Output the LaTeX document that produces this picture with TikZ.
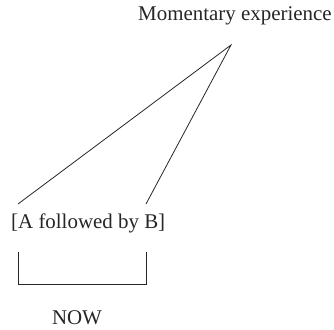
\documentclass[tikz,border=0pt]{standalone}
\usepackage{fontspec}
\setmainfont{Liberation Serif}
\begin{document}
\begin{tikzpicture}[x=1bp,y=-1bp,
  lbl/.style={inner sep=0pt,font=\fontsize{21}{25}\selectfont,text=black!85},
  ln/.style={line width=0.8bp,black!85}]
\useasboundingbox (0,0) rectangle (334,330);
\node[lbl,anchor=base west] (me) at (138,20) {Momentary experience};
\node[lbl,anchor=base west] (ab) at (11,228) {[A followed by B]};
\node[lbl,anchor=base] (now) at (77,324) {NOW};
\coordinate (apex) at (231,45);
\coordinate (l) at (18,204);
\coordinate (r) at (146,204);
\coordinate (bl) at (18,252);
\coordinate (br) at (146,252);
\draw[ln] (l) -- (apex) -- (r);
\draw[ln] (bl) -- ++(0,32) -| (br);
\end{tikzpicture}
\end{document}
